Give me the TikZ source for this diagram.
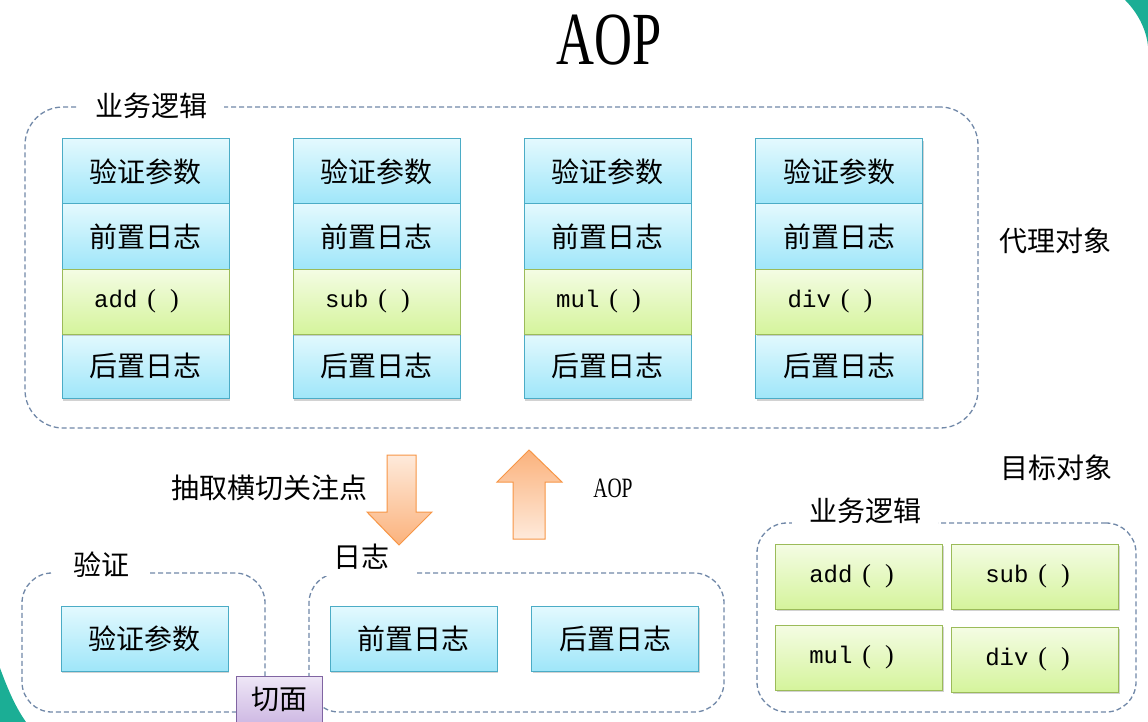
\documentclass[tikz,border=0pt]{standalone}
\usepackage{fontspec}
\setmainfont{Liberation Serif}
\newfontfamily\cjk{Noto Sans CJK SC}
\newfontfamily\monof{Liberation Mono}
\usetikzlibrary{shadows}
\definecolor{bluetop}{HTML}{E3F9FE}
\definecolor{bluebot}{HTML}{9FE6F9}
\definecolor{bluebd}{HTML}{4BACC6}
\definecolor{greentop}{HTML}{F4FCE4}
\definecolor{greenbot}{HTML}{D5F49C}
\definecolor{greenbd}{HTML}{9BBB59}
\definecolor{purptop}{HTML}{EEE6F6}
\definecolor{purpbot}{HTML}{C8B0E0}
\definecolor{purpbd}{HTML}{8064A2}
\definecolor{orlight}{HTML}{FEEADB}
\definecolor{ordark}{HTML}{FBB27C}
\definecolor{orbd}{HTML}{F79646}
\definecolor{dashc}{HTML}{7188A8}
\definecolor{tealc}{HTML}{1BAE95}
\newcommand{\meth}[1]{{\monof\fontsize{24}{26}\selectfont #1}\hspace{10pt}{\fontsize{26}{28}\selectfont(\hspace{14pt})}}
\tikzset{
  x=1pt, y=-1pt,
  cn/.style={font=\cjk\fontsize{28}{30}\selectfont, text=black},
  boxbase/.style={line width=1pt, minimum width=167pt, minimum height=65pt, inner sep=0pt,
    drop shadow={opacity=0.35, shadow xshift=1.2pt, shadow yshift=-2pt}},
  bluebox/.style={boxbase, draw=bluebd, top color=bluetop, bottom color=bluebot, cn},
  greenbox/.style={boxbase, draw=greenbd, top color=greentop, bottom color=greenbot},
  frame/.style={draw=dashc, line width=1.3pt, dash pattern=on 5pt off 3pt, rounded corners=38pt, inner sep=0pt},
  lbl/.style={cn, fill=white, inner ysep=4pt},
  arrowshape/.style={draw=orbd, line width=1pt},
}
\begin{document}
\begin{tikzpicture}
\clip (0,0) rectangle (1148,722);
\fill[white] (0,0) rectangle (1148,722);
% teal corners
\fill[tealc] (1125,0) .. controls (1137,12) and (1146,28) .. (1148,46) -- (1148,0) -- cycle;
\fill[tealc] (0,668) .. controls (8,690) and (16,708) .. (26,722) -- (0,722) -- cycle;

% title
\node (title) at (609,40) {\fontsize{75}{80}\selectfont\scalebox{0.7}[1]{AOP}};

% top frame
\node[frame, minimum width=953pt, minimum height=321pt] (topframe) at (501.5,267.5) {};
\node[lbl, inner xsep=17pt] (toplbl) at (151,106) {业务逻辑};

% columns
\foreach \cx/\m/\k in {145.5/add/1, 376.5/sub/2, 607.5/mul/3, 839/div/4} {
  \node[bluebox] (c\k r1) at (\cx,171.5) {验证参数};
  \node[bluebox] (c\k r2) at (\cx,236.5) {前置日志};
  \node[bluebox] (c\k r4) at (\cx,366) {后置日志};
  \node[greenbox] (c\k r3) at (\cx,301.5) {\hspace*{-18pt}\meth{\m}};
}

\node[cn] (proxy) at (1055,241) {代理对象};
\node[cn] (target) at (1056,468) {目标对象};

\node[cn] (extract) at (269,488) {抽取横切关注点};
\node (aoplbl) at (613,488) {\fontsize{28}{30}\selectfont\scalebox{0.7}[1]{AOP}};

% bottom-left frame
\node[frame, rounded corners=30pt, minimum width=243pt, minimum height=139pt] (vframe) at (143.5,642.5) {};
\node[lbl, inner xsep=20pt] (vlbl) at (101,565) {验证};
\node[bluebox] (vbox) at (144.5,638.5) {验证参数};

% log frame
\node[frame, rounded corners=30pt, minimum width=415pt, minimum height=139pt] (lframe) at (516.5,642.5) {};
\node[lbl, inner xsep=26pt, inner ysep=6pt] (llbl) at (361,557) {日志};
\node[bluebox] (pre) at (413.5,638.5) {前置日志};
\node[bluebox] (post) at (615,638.5) {后置日志};

% arrows
\shade[arrowshape, top color=orlight, bottom color=ordark]
  (387,455) -- (416,455) -- (416,512) -- (432,512) -- (399,545) -- (367,512) -- (387,512) -- cycle;
\shade[arrowshape, top color=ordark, bottom color=orlight]
  (513,539) -- (545,539) -- (545,482) -- (562,482) -- (529,450) -- (497,482) -- (513,482) -- cycle;

% aspect
\node[line width=1pt, draw=purpbd, top color=purptop, bottom color=purpbot, cn,
      minimum width=86pt, minimum height=56pt, inner sep=0pt, anchor=north] (aspect) at (279,676) {};
\node[cn] (aspectlbl) at (279,699) {切面};

% right frame
\node[frame, rounded corners=30pt, minimum width=379pt, minimum height=189pt] (rframe) at (946.5,617.5) {};
\node[lbl, inner xsep=17pt] (rlbl) at (865,511) {业务逻辑};
\node[greenbox] (gadd) at (859,576.5) {\hspace*{-15pt}\meth{add}};
\node[greenbox] (gsub) at (1035,576.5) {\hspace*{-15pt}\meth{sub}};
\node[greenbox] (gmul) at (859,657.5) {\hspace*{-15pt}\meth{mul}};
\node[greenbox] (gdiv) at (1035,659.5) {\hspace*{-15pt}\meth{div}};
\end{tikzpicture}
\end{document}
